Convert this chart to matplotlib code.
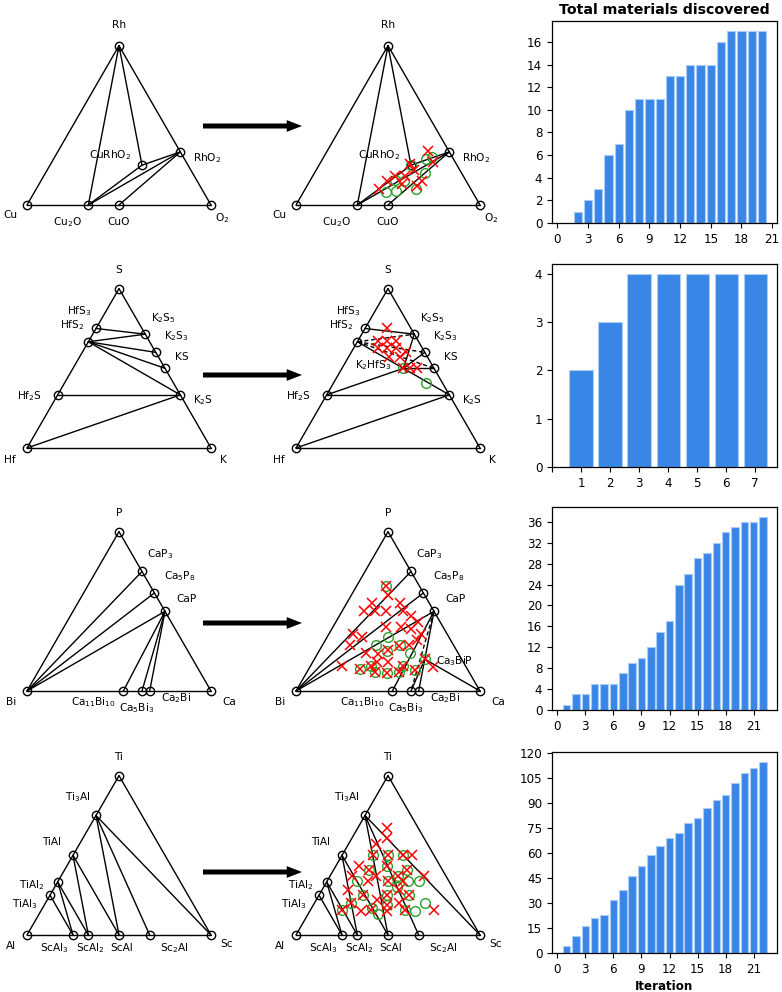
import re
import numpy as np
import matplotlib
matplotlib.use('Agg')
import matplotlib.pyplot as plt
from matplotlib.patches import FancyArrowPatch

plt.rcParams['font.family'] = ['DejaVu Sans']
plt.rcParams['mathtext.default'] = 'regular'

W, H = 782, 992
L = 184.0  # triangle side (px)

# ====================== DATA ======================
# phase compositions: fraction of right-corner element, fraction of top-corner element
# first three names are the corners: left, right, top
cu_names = ['Cu', 'O2', 'Rh', 'Cu2O', 'CuO', 'CuRhO2', 'RhO2']
cu_right = [0, 1, 0, 1/3, 1/2, 1/2, 2/3]
cu_top = [0, 0, 1, 0, 0, 1/4, 1/3]
cu_ties = [('Rh', 'Cu2O'), ('Rh', 'CuRhO2'), ('Cu2O', 'CuRhO2'), ('Cu2O', 'RhO2'),
           ('CuRhO2', 'RhO2'), ('CuO', 'RhO2')]
cu_x_right = [0.55, 0.61, 0.49, 0.53, 0.50, 0.61, 0.60, 0.42, 0.40, 0.51, 0.45]
cu_x_top = [0.34, 0.27, 0.26, 0.22, 0.18, 0.15, 0.12, 0.15, 0.10, 0.13, 0.18]
cu_o_right = [0.59, 0.56, 0.50, 0.60, 0.46, 0.51, 0.45, 0.50, 0.60]
cu_o_top = [0.30, 0.29, 0.25, 0.20, 0.16, 0.15, 0.08, 0.09, 0.10]

hf_names = ['Hf', 'K', 'S', 'HfS3', 'HfS2', 'Hf2S', 'K2S5', 'K2S3', 'KS', 'K2S']
hf_right = [0, 1, 0, 0, 0, 0, 2/7, 2/5, 1/2, 2/3]
hf_top = [0, 0, 1, 3/4, 2/3, 1/3, 5/7, 3/5, 1/2, 1/3]
hf_ties = [('HfS3', 'K2S5'), ('HfS2', 'K2S5'), ('HfS2', 'K2S3'), ('HfS2', 'KS'),
           ('HfS2', 'K2S'), ('Hf2S', 'K2S'), ('Hf', 'K2S')]
hf_new_names = ['K2HfS3']
hf_new_right = [1/3]
hf_new_top = [1/2]
hf_ties_after = [('HfS3', 'K2S5'), ('HfS2', 'K2S'), ('Hf2S', 'K2S'), ('Hf', 'K2S'),
                 ('Hf2S', 'K2HfS3'), ('K2HfS3', 'K2S5'), ('K2HfS3', 'K2S3'), ('K2HfS3', 'KS')]
hf_dashed_after = [('HfS2', 'K2S5'), ('HfS2', 'K2S3'), ('HfS2', 'KS')]
hf_x_right = [0.12, 0.11, 0.16, 0.21, 0.13, 0.18, 0.23, 0.30, 0.22, 0.28, 0.33, 0.37, 0.41]
hf_x_top = [0.75, 0.67, 0.67, 0.67, 0.63, 0.63, 0.63, 0.60, 0.57, 0.57, 0.50, 0.50, 0.50]
hf_o_right = [0.33, 0.50]
hf_o_top = [0.50, 0.41]

ca_names = ['Bi', 'Ca', 'P', 'CaP3', 'Ca5P8', 'CaP', 'Ca11Bi10', 'Ca5Bi3', 'Ca2Bi']
ca_right = [0, 1, 0, 1/4, 5/13, 1/2, 11/21, 5/8, 2/3]
ca_top = [0, 0, 1, 3/4, 8/13, 1/2, 0, 0, 0]
ca_ties = [('Bi', 'CaP3'), ('Bi', 'Ca5P8'), ('Bi', 'CaP'), ('CaP', 'Ca11Bi10'),
           ('CaP', 'Ca5Bi3'), ('CaP', 'Ca2Bi')]
ca_new_names = ['Ca3BiP']
ca_new_right = [3/5]
ca_new_top = [1/5]
ca_ties_after = [('Bi', 'CaP3'), ('Bi', 'Ca5P8'), ('Bi', 'CaP'), ('CaP', 'Ca11Bi10'),
                 ('CaP', 'Ca3BiP'), ('Ca3BiP', 'Ca2Bi'), ('Ca3BiP', 'Ca'), ('Ca3BiP', 'Ca5Bi3')]
ca_dashed_after = [('CaP', 'Ca5Bi3')]
ca_x_right = [0.16, 0.20, 0.14, 0.12, 0.18, 0.24, 0.29, 0.33, 0.39, 0.45, 0.50, 0.29, 0.37,
              0.43, 0.13, 0.19, 0.15, 0.26, 0.33, 0.37, 0.42, 0.47, 0.50, 0.41, 0.35, 0.28,
              0.33, 0.37, 0.44, 0.50, 0.50, 0.58, 0.60, 0.67, 0.17]
ca_x_top = [0.66, 0.60, 0.55, 0.50, 0.50, 0.50, 0.55, 0.50, 0.47, 0.43, 0.36, 0.40, 0.40,
            0.39, 0.36, 0.34, 0.29, 0.24, 0.23, 0.26, 0.28, 0.29, 0.32, 0.18, 0.18, 0.14,
            0.16, 0.12, 0.11, 0.12, 0.16, 0.13, 0.20, 0.15, 0.16]
ca_o_right = [0.16, 0.33, 0.29, 0.42, 0.37, 0.50, 0.28, 0.33, 0.37, 0.44, 0.50, 0.50, 0.58, 0.60]
ca_o_top = [0.66, 0.34, 0.29, 0.29, 0.25, 0.24, 0.14, 0.16, 0.12, 0.11, 0.12, 0.16, 0.13, 0.20]

ti_names = ['Al', 'Sc', 'Ti', 'Ti3Al', 'TiAl', 'TiAl2', 'TiAl3', 'ScAl3', 'ScAl2', 'ScAl', 'Sc2Al']
ti_right = [0, 1, 0, 0, 0, 0, 0, 1/4, 1/3, 1/2, 2/3]
ti_top = [0, 0, 1, 3/4, 1/2, 1/3, 1/4, 0, 0, 0, 0]
ti_ties = [('Ti3Al', 'ScAl'), ('Ti3Al', 'Sc2Al'), ('Ti3Al', 'Sc'), ('TiAl', 'ScAl2'),
           ('TiAl', 'ScAl'), ('TiAl2', 'ScAl3'), ('TiAl2', 'ScAl2'), ('TiAl3', 'ScAl3')]
ti_x_right = [0.16, 0.19, 0.15, 0.17, 0.25, 0.33, 0.38, 0.13, 0.19, 0.25, 0.28, 0.37, 0.40,
              0.51, 0.12, 0.22, 0.33, 0.41, 0.14, 0.24, 0.33, 0.37, 0.42, 0.49, 0.28, 0.33,
              0.42, 0.46, 0.51, 0.67, 0.20, 0.17, 0.40]
ti_x_top = [0.67, 0.61, 0.57, 0.50, 0.50, 0.50, 0.50, 0.43, 0.41, 0.37, 0.43, 0.37, 0.41,
            0.37, 0.37, 0.34, 0.34, 0.34, 0.28, 0.25, 0.22, 0.25, 0.28, 0.25, 0.15, 0.16,
            0.15, 0.20, 0.16, 0.16, 0.20, 0.16, 0.19]
ti_o_right = [0.17, 0.25, 0.33, 0.19, 0.28, 0.37, 0.40, 0.16, 0.33, 0.44, 0.50, 0.24, 0.37,
              0.49, 0.40, 0.20, 0.17, 0.33, 0.38, 0.40, 0.51, 0.57, 0.60]
ti_o_top = [0.50, 0.50, 0.50, 0.41, 0.43, 0.37, 0.41, 0.34, 0.34, 0.34, 0.34, 0.25, 0.25,
            0.25, 0.30, 0.20, 0.16, 0.17, 0.13, 0.19, 0.16, 0.15, 0.20]

# bar charts: total materials discovered per iteration
bar1_iter = list(range(2, 21))
bar1_total = [1, 2, 3, 6, 7, 10, 11, 11, 11, 13, 13, 14, 14, 14, 16, 17, 17, 17, 17]
bar2_iter = list(range(1, 8))
bar2_total = [2, 3, 4, 4, 4, 4, 4]
bar3_iter = list(range(1, 23))
bar3_total = [1, 3, 3, 5, 5, 5, 7, 9, 10, 12, 15, 17, 24, 26, 29, 30, 32, 34, 35, 36, 36, 37]
bar4_iter = list(range(1, 23))
bar4_total = [4, 10, 16, 21, 23, 32, 38, 46, 52, 59, 64, 69, 72, 78, 81, 87, 92, 95, 102,
              108, 111, 115]

# ====================== STYLE / LAYOUT ======================
cu_off = {'Cu': (-17, -10), 'O2': (11, -13), 'Rh': (0, 21), 'Cu2O': (-21, -17),
          'CuO': (0, -17), 'CuRhO2': (-32, 10), 'RhO2': (27, -6)}
hf_off = {'Hf': (-17, -12), 'K': (12, -12), 'S': (0, 19), 'HfS3': (-17, 17),
          'HfS2': (-16, 17), 'Hf2S': (-28, -1), 'K2S5': (18, 16), 'K2S3': (21, 16),
          'KS': (17, 11), 'K2S': (23, -5), 'K2HfS3': (-30, 3)}
ca_off = {'Bi': (-16, -11), 'Ca': (18, -11), 'P': (0, 19), 'CaP3': (18, 17),
          'Ca5P8': (25, 17), 'CaP': (21, 12), 'Ca11Bi10': (-30, -11), 'Ca5Bi3': (-5, -17),
          'Ca2Bi': (26, -7), 'Ca3BiP': (30, -2)}
ti_off = {'Al': (-16, -11), 'Sc': (16, -9), 'Ti': (0, 19), 'Ti3Al': (-18, 18),
          'TiAl': (-21, 13), 'TiAl2': (-26, -3), 'TiAl3': (-25, -9), 'ScAl3': (-19, -13),
          'ScAl2': (2, -13), 'ScAl': (3, -13), 'Sc2Al': (25, -13)}

LABEL_FS = 7.6
BAR_COLOR = '#3a86e6'
BAR_EDGE = '#a9cdf5'

fig = plt.figure(figsize=(W / 100, H / 100), dpi=100)


def fmt(name):
    return re.sub(r'(\d+)', r'$_{\1}$', name)


def tern_xy(r, t):
    r = np.asarray(r, float)
    t = np.asarray(t, float)
    return r + 0.5 * t, t * np.sqrt(3) / 2


def tri_axes(x0, y0):
    ax = fig.add_axes([(x0 - 0.15 * L) / W, (H - y0 - 0.15 * L) / H,
                       1.3 * L / W, 1.15 * L / H])
    ax.set_xlim(-0.15, 1.15)
    ax.set_ylim(-0.15, 1.0)
    ax.axis('off')
    return ax


def draw_tern(ax, names, right, top, ties, offsets, dashed=(), new=None,
              xr=None, xt=None, o_r=None, o_t=None):
    pos = {n: tern_xy(r, t) for n, r, t in zip(names, right, top)}
    if new is not None:
        for n, r, t in zip(*new):
            pos[n] = tern_xy(r, t)
    c = names[:3]
    edges = [(c[0], c[1]), (c[0], c[2]), (c[1], c[2])]
    for a, b in edges + list(ties):
        ax.plot([pos[a][0], pos[b][0]], [pos[a][1], pos[b][1]], color='k', lw=1.0,
                solid_capstyle='round', zorder=1)
    for a, b in dashed:
        ax.plot([pos[a][0], pos[b][0]], [pos[a][1], pos[b][1]], color='k', lw=1.0,
                ls=(0, (3, 2)), zorder=1)
    px, py = tern_xy(right, top)
    ax.plot(px, py, 'o', ms=6, mfc='none', mec='k', mew=1.0, ls='none', zorder=3)
    if xr is not None:
        gx, gy = tern_xy(o_r, o_t)
        ax.plot(gx, gy, 'o', ms=7, mfc='none', mec='#2ca02c', mew=1.0, ls='none', zorder=4)
        xx, xy = tern_xy(xr, xt)
        ax.plot(xx, xy, 'x', ms=7, color='red', mew=1.1, ls='none', zorder=5)
    allnames = list(names) + (list(new[0]) if new is not None else [])
    for n in allnames:
        dx, dy = offsets[n]
        ax.annotate(fmt(n), xy=(pos[n][0], pos[n][1]), xytext=(dx, dy),
                    textcoords='offset pixels', ha='center', va='center',
                    fontsize=LABEL_FS, zorder=6)


def bar_axes(top_px, bot_px):
    return fig.add_axes([552 / W, (H - bot_px) / H, 225 / W, (bot_px - top_px) / H])


def draw_bar(ax, x, y, xlim, xticks, yticks, xticklabels=None):
    ax.bar(x, y, width=0.8, color=BAR_COLOR, edgecolor=BAR_EDGE, linewidth=0.8)
    ax.set_xlim(*xlim)
    ax.set_ylim(0, max(y) * 1.05)
    ax.set_xticks(xticks)
    if xticklabels is not None:
        ax.set_xticklabels(xticklabels)
    ax.set_yticks(yticks)
    ax.tick_params(labelsize=8.6, length=3.5, width=0.8)
    for s in ax.spines.values():
        s.set_linewidth(0.9)


def arrow(y_px):
    fig.add_artist(FancyArrowPatch((203 / W, 1 - y_px / H), (302 / W, 1 - y_px / H),
                                   transform=fig.transFigure,
                                   arrowstyle='simple,head_length=1.1,head_width=0.85,tail_width=0.36',
                                   mutation_scale=10, fc='k', ec='k', lw=0,
                                   shrinkA=0, shrinkB=0))


rows_y = [205, 448, 691, 935]
xl, xm = 27, 296

# Row 1: Cu-O-Rh
draw_tern(tri_axes(xl, rows_y[0]), cu_names, cu_right, cu_top, cu_ties, cu_off)
draw_tern(tri_axes(xm, rows_y[0]), cu_names, cu_right, cu_top, cu_ties, cu_off,
          xr=cu_x_right, xt=cu_x_top, o_r=cu_o_right, o_t=cu_o_top)
# Row 2: Hf-K-S
draw_tern(tri_axes(xl, rows_y[1]), hf_names, hf_right, hf_top, hf_ties, hf_off)
draw_tern(tri_axes(xm, rows_y[1]), hf_names, hf_right, hf_top, hf_ties_after, hf_off,
          dashed=hf_dashed_after, new=(hf_new_names, hf_new_right, hf_new_top),
          xr=hf_x_right, xt=hf_x_top, o_r=hf_o_right, o_t=hf_o_top)
# Row 3: Bi-Ca-P
draw_tern(tri_axes(xl, rows_y[2]), ca_names, ca_right, ca_top, ca_ties, ca_off)
draw_tern(tri_axes(xm, rows_y[2]), ca_names, ca_right, ca_top, ca_ties_after, ca_off,
          dashed=ca_dashed_after, new=(ca_new_names, ca_new_right, ca_new_top),
          xr=ca_x_right, xt=ca_x_top, o_r=ca_o_right, o_t=ca_o_top)
# Row 4: Al-Sc-Ti
draw_tern(tri_axes(xl, rows_y[3]), ti_names, ti_right, ti_top, ti_ties, ti_off)
draw_tern(tri_axes(xm, rows_y[3]), ti_names, ti_right, ti_top, ti_ties, ti_off,
          xr=ti_x_right, xt=ti_x_top, o_r=ti_o_right, o_t=ti_o_top)

for y in [126, 375, 623, 872]:
    arrow(y)

# Bar charts
ax1 = bar_axes(21, 223)
draw_bar(ax1, bar1_iter, bar1_total, (-0.52, 21.47), range(0, 22, 3), range(0, 17, 2))
ax1.set_title('Total materials discovered', fontsize=10.2, fontweight='bold', pad=5)

ax2 = bar_axes(264, 467)
draw_bar(ax2, bar2_iter, bar2_total, (0.0, 7.75), range(0, 8), range(0, 5),
         xticklabels=[''] + [str(i) for i in range(1, 8)])

ax3 = bar_axes(507, 710)
draw_bar(ax3, bar3_iter, bar3_total, (-0.57, 23.5), range(0, 22, 3), range(0, 37, 4))

ax4 = bar_axes(752, 953)
draw_bar(ax4, bar4_iter, bar4_total, (-0.57, 23.5), range(0, 22, 3), range(0, 121, 15))
ax4.set_xlabel('Iteration', fontsize=8.6, fontweight='bold', labelpad=3)

fig.savefig('out.png', dpi=100)
